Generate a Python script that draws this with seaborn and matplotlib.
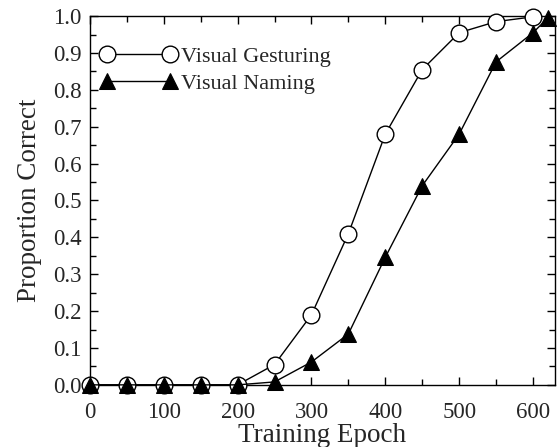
import matplotlib
matplotlib.use("Agg")
from matplotlib import pyplot as plt
from matplotlib.ticker import MultipleLocator, FormatStrFormatter
import pandas as pd
import seaborn as sns

# values
gest_epochs = [0, 50, 100, 150, 200, 250, 300, 350, 400, 450, 500, 550, 600]
gest_correct = [0.0, 0.0, 0.0, 0.0, 0.0, 0.055, 0.19, 0.41, 0.68, 0.855,
                0.955, 0.985, 0.998]
name_epochs = [0, 50, 100, 150, 200, 250, 300, 350, 400, 450, 500, 550, 600,
               620]
name_correct = [0.0, 0.0, 0.0, 0.0, 0.0, 0.008, 0.062, 0.138, 0.346, 0.54,
                0.68, 0.876, 0.955, 0.995]
series_names = ["Visual Gesturing", "Visual Naming"]

sns.set_style("ticks")
plt.rcParams["font.family"] = ["Liberation Serif", "DejaVu Serif"]
plt.rcParams["xtick.direction"] = "in"
plt.rcParams["ytick.direction"] = "in"

gest = pd.DataFrame({"epoch": gest_epochs, "correct": gest_correct})
name = pd.DataFrame({"epoch": name_epochs, "correct": name_correct})

fig = plt.figure(figsize=(5.58, 4.47), dpi=100)
ax = fig.add_axes([0.161, 0.139, 0.834, 0.825])

sns.lineplot(data=gest, x="epoch", y="correct", ax=ax, color="black",
             linewidth=1.0, marker="o", markersize=12,
             markerfacecolor="white", markeredgecolor="black",
             markeredgewidth=1.0, label=series_names[0], zorder=3)
sns.lineplot(data=name, x="epoch", y="correct", ax=ax, color="black",
             linewidth=1.0, marker="^", markersize=12,
             markerfacecolor="black", markeredgecolor="black",
             label=series_names[1], zorder=4)

ax.set_xlim(0, 630)
ax.set_ylim(0, 1.0)
ax.xaxis.set_major_locator(MultipleLocator(100))
ax.xaxis.set_minor_locator(MultipleLocator(50))
ax.yaxis.set_major_locator(MultipleLocator(0.1))
ax.yaxis.set_minor_locator(MultipleLocator(0.05))
ax.yaxis.set_major_formatter(FormatStrFormatter("%.1f"))
ax.tick_params(which="both", top=True, right=True, labelsize=16.5,
               width=1.0, color="black")
ax.tick_params(which="major", length=6)
ax.tick_params(which="minor", length=4)
ax.tick_params(axis="x", pad=12)
ax.tick_params(axis="y", pad=6)
for s in ax.spines.values():
    s.set_linewidth(1.0)
    s.set_color("black")
for line in ax.lines:
    line.set_clip_on(False)

ax.set_xlabel("Training Epoch", fontsize=19.5, labelpad=0)
ax.set_ylabel("Proportion Correct", fontsize=19.5, labelpad=8)

leg = ax.legend(loc="upper left", bbox_to_anchor=(-0.01, 0.96), frameon=False,
                numpoints=2, handlelength=3.4, handletextpad=0.2,
                fontsize=16, labelspacing=0.3, borderaxespad=0.3)

fig.savefig("out.png", dpi=100)
